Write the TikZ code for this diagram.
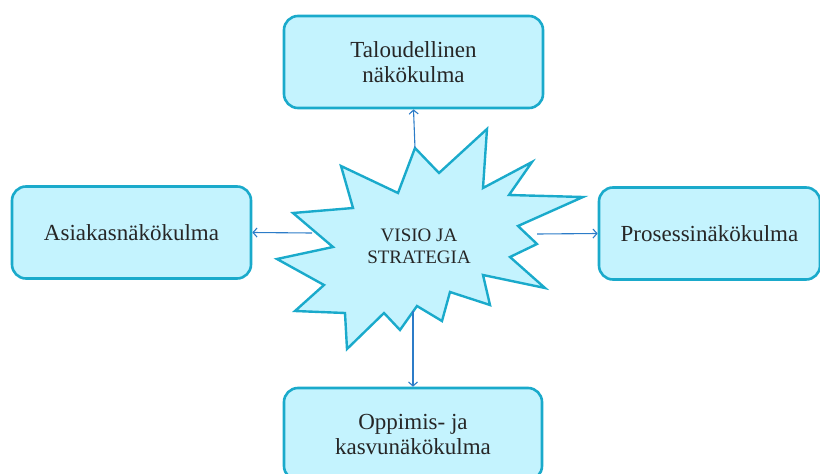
\documentclass[tikz,border=0pt]{standalone}
\usepackage{fontspec}
\setmainfont{Liberation Serif}
\usetikzlibrary{arrows.meta}
\definecolor{boxfill}{HTML}{C4F3FE}
\definecolor{boxline}{HTML}{1AAACB}
\definecolor{linkblue}{HTML}{2C7CC8}
\definecolor{ink}{HTML}{262626}
\begin{document}
\begin{tikzpicture}[x=1pt,y=-1pt,
  view/.style={draw=boxline, fill=boxfill, line width=2.6pt, rounded corners=14pt,
    minimum width=#1, minimum height=92pt, align=center, text=ink,
    font=\fontsize{23}{25}\selectfont, inner sep=0pt},
  burst/.style={draw=boxline, fill=boxfill, line width=2.4pt, line join=miter},
  corelabel/.style={align=center, text=ink, font=\fontsize{19}{22}\selectfont, inner sep=0pt},
  link/.style={draw=linkblue, line width=1.1pt, -{Straight Barb[length=4pt,width=9pt]}},
  ]
\useasboundingbox (0,0) rectangle (820,474);
\clip (0,0) rectangle (820,474);

% the four perspectives
\node[view=259pt] (fin)   at (413.5,62)  {Taloudellinen\\näkökulma};
\node[view=239pt] (cust)  at (131.5,232.5) {Asiakasnäkökulma};
\node[view=221pt] (proc)  at (709.5,233.5) {Prosessinäkökulma};
\node[view=258pt] (learn) at (413,434)   {Oppimis- ja\\kasvunäkökulma};

% central burst
\draw[burst] (415,148) -- (439,173) -- (487,129) -- (483,188) -- (532,162)
  -- (509,195) -- (583,197) -- (518,226) -- (537,244) -- (510,257)
  -- (545,288) -- (483,275) -- (490,305) -- (450,292) -- (442,321)
  -- (417,306) -- (400,330) -- (384,313) -- (347,349) -- (345,313)
  -- (295,311) -- (324,285) -- (277,259) -- (333,247) -- (293,213)
  -- (353,208) -- (341,166) -- (398,193) -- cycle;
\node[corelabel] (core) at (419,246) {VISIO JA\\STRATEGIA};

% arrow start points on the burst outline
\coordinate (tipN) at (415,148);
\coordinate (tipW) at (312,233);
\coordinate (tipE) at (537,234);
\coordinate (tipS) at (413,311);

\draw[link] (tipN) -- (fin.south);
\draw[link] (tipW) -- (cust.east);
\draw[link] (tipE) -- (proc.west);
\draw[link] (tipS) -- (learn.north);
\end{tikzpicture}
\end{document}
